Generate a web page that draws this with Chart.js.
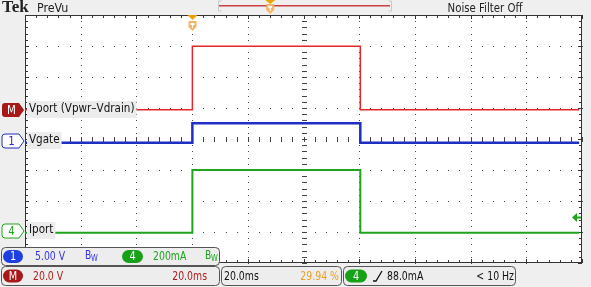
<!DOCTYPE html>
<html>
<head>
<meta charset="utf-8">
<script src="https://cdn.jsdelivr.net/npm/chart.js@4.4.1/dist/chart.umd.min.js"></script>
<style>
  html, body { margin: 0; padding: 0; background: #efefef; }
  canvas { display: block; }
</style>
</head>
<body>
<canvas id="scope" width="591" height="287"></canvas>
<script>
// horizontal: 10 div x 20 ms
const timeMs = [0, 60.1, 60.1, 120.4, 120.4, 199];
const vport = [0, 0, 41, 41, 0, 0];                    // V  (math M)
const vgate = [-0.35, -0.35, 2.8, 2.8, -0.35, -0.35];  // V  (ch 1)
const iport = [-11, -11, 394, 394, -11, -11];          // mA (ch 4)

const chIds = ['M', '1', '4'];
const chNames = ['Vport (Vpwr\u2013Vdrain)', 'Vgate', 'Iport'];
const chPerDiv = [20, 5, 200];
const chPosDiv = [0.94, -0.05, -2.97];
const chColors = ['#e4262a', '#1f2fc4', '#1ea41e'];
const chWidths = [1.5, 2.5, 2];

const trigTime = 60;    // ms
const trigLevel = 88;   // mA on ch 4
const trigPct = 29.94;

const UI = "'DejaVu Sans Condensed', 'Liberation Sans', sans-serif";

function axisFor(i) {
  return {
    display: false,
    min: (-4 - chPosDiv[i]) * chPerDiv[i],
    max: (4 - chPosDiv[i]) * chPerDiv[i]
  };
}

function toPoints(values) {
  return timeMs.map((t, i) => ({ x: t, y: values[i] }));
}

// narrow text: the scope font is tighter than anything installed
function sText(ctx, str, x, y, align, sx) {
  ctx.save();
  ctx.translate(x, y);
  ctx.scale(sx, 1);
  ctx.textAlign = align;
  ctx.fillText(str, 0, 0);
  ctx.restore();
}

function roundRect(ctx, x, y, w, h, r) {
  ctx.beginPath();
  ctx.roundRect(x, y, w, h, r);
}

function pill(ctx, x, y, w, h, color, text) {
  roundRect(ctx, x, y, w, h, h / 2);
  ctx.fillStyle = color;
  ctx.fill();
  ctx.fillStyle = '#fff';
  ctx.font = '12px ' + UI;
  ctx.textBaseline = 'middle';
  sText(ctx, text, x + w / 2, y + h / 2 + 0.5, 'center', 0.9);
}

function bw(ctx, x, y, color) {
  ctx.fillStyle = color;
  ctx.textBaseline = 'middle';
  ctx.font = '12px ' + UI;
  sText(ctx, 'B', x, y, 'left', 0.85);
  ctx.font = '9px ' + UI;
  sText(ctx, 'W', x + 6, y + 3, 'left', 0.85);
}

// graticule drawn under the traces
const graticule = {
  id: 'graticule',
  beforeDatasetsDraw(chart) {
    const { ctx, chartArea: a, scales } = chart;
    const x = scales.x, yd = scales.yDiv;
    ctx.save();
    ctx.fillStyle = '#fff';
    ctx.fillRect(a.left, a.top, a.right - a.left, a.bottom - a.top);
    ctx.fillStyle = '#444';
    for (let i = 1; i < 10; i++) {
      const px = Math.round(x.getPixelForValue(i * 20));
      for (let j = -20; j <= 20; j++) {
        ctx.fillRect(px, Math.round(yd.getPixelForValue(j / 5)), 1, 1);
      }
    }
    for (let j = -3; j <= 3; j++) {
      const py = Math.round(yd.getPixelForValue(j));
      for (let i = 0; i <= 50; i++) {
        ctx.fillRect(Math.round(x.getPixelForValue(i * 4)), py, 1, 1);
      }
    }
    // centre cross ticks
    const cx = Math.round(x.getPixelForValue(100));
    const cy = Math.round(yd.getPixelForValue(0));
    for (let j = -20; j <= 20; j++) {
      ctx.fillRect(cx - 2, Math.round(yd.getPixelForValue(j / 5)), 5, 1);
    }
    for (let i = 0; i <= 50; i++) {
      ctx.fillRect(Math.round(x.getPixelForValue(i * 4)), cy - 2, 1, 5);
    }
    // border ticks
    ctx.fillStyle = '#333';
    for (let i = 0; i <= 50; i++) {
      const px = Math.round(x.getPixelForValue(i * 4));
      const len = i % 5 === 0 ? 4 : 3;
      ctx.fillRect(px, a.top, 1, len);
      ctx.fillRect(px, a.bottom - len, 1, len);
    }
    for (let j = -20; j <= 20; j++) {
      const py = Math.round(yd.getPixelForValue(j / 5));
      const len = j % 5 === 0 ? 4 : 3;
      ctx.fillRect(a.left, py, len, 1);
      ctx.fillRect(a.right - len, py, len, 1);
    }
    ctx.strokeStyle = '#333';
    ctx.lineWidth = 1;
    ctx.strokeRect(a.left + 0.5, a.top + 0.5, a.right - a.left - 1, a.bottom - a.top - 1);
    ctx.restore();
  }
};

function groundMarker(ctx, id, color, filled, py) {
  ctx.beginPath();
  ctx.moveTo(5, py - 7);
  ctx.lineTo(19, py - 7);
  ctx.lineTo(24, py);
  ctx.lineTo(19, py + 7);
  ctx.lineTo(5, py + 7);
  ctx.arcTo(2, py + 7, 2, py, 3);
  ctx.arcTo(2, py - 7, 5, py - 7, 3);
  ctx.closePath();
  if (filled) {
    ctx.fillStyle = color;
    ctx.fill();
  } else {
    ctx.fillStyle = '#fff';
    ctx.fill();
    ctx.strokeStyle = color;
    ctx.lineWidth = 1;
    ctx.stroke();
  }
  ctx.fillStyle = filled ? '#fff' : color;
  ctx.font = '12px ' + UI;
  ctx.textBaseline = 'middle';
  sText(ctx, id, 11.5, py + 0.5, 'center', 0.95);
}

// channel labels, ground markers, trigger marks
const overlays = {
  id: 'overlays',
  afterDatasetsDraw(chart) {
    const { ctx, chartArea: a, scales } = chart;
    ctx.save();
    const labelSx = 0.89;
    ['yM', 'y1', 'y4'].forEach((axis, i) => {
      const py = Math.round(scales[axis].getPixelForValue(0));
      ctx.font = '13px ' + UI;
      const w = ctx.measureText(chNames[i]).width * labelSx;
      ctx.fillStyle = '#ececec';
      ctx.fillRect(a.left + 2, py - 9, w + 4, 17);
      ctx.fillStyle = '#111';
      ctx.textBaseline = 'middle';
      sText(ctx, chNames[i], a.left + 4, py - 1, 'left', labelSx);
      groundMarker(ctx, chIds[i], i === 0 ? '#a81818' : chColors[i], i === 0, py);
    });

    // trigger position (T) at top of graticule
    const tx = Math.round(scales.x.getPixelForValue(trigTime)) + 0.5;
    ctx.fillStyle = '#eea000';
    ctx.beginPath();
    ctx.moveTo(tx - 5, a.top);
    ctx.lineTo(tx + 5, a.top);
    ctx.lineTo(tx, a.top + 5);
    ctx.fill();
    ctx.fillStyle = '#f4b46a';
    ctx.beginPath();
    ctx.moveTo(tx - 4, a.top + 6);
    ctx.lineTo(tx + 4, a.top + 6);
    ctx.lineTo(tx + 4, a.top + 12);
    ctx.lineTo(tx, a.top + 16);
    ctx.lineTo(tx - 4, a.top + 12);
    ctx.fill();
    ctx.fillStyle = '#fff';
    ctx.fillRect(tx - 2, a.top + 8, 4, 2);
    ctx.fillRect(tx - 0.5, a.top + 9, 1, 4);

    // trigger level arrow on the right
    const ly = Math.round(scales.y4.getPixelForValue(trigLevel)) + 0.5;
    ctx.fillStyle = chColors[2];
    ctx.beginPath();
    ctx.moveTo(a.right - 10, ly);
    ctx.lineTo(a.right - 5, ly - 4.5);
    ctx.lineTo(a.right - 5, ly + 4.5);
    ctx.fill();
    ctx.fillRect(a.right - 6, ly - 1, 5, 2);
    ctx.restore();
  },
  afterDraw(chart) {
    const { ctx } = chart;
    ctx.save();
    // header
    ctx.fillStyle = '#222';
    ctx.textBaseline = 'alphabetic';
    ctx.font = "bold 17px 'Liberation Serif', serif";
    sText(ctx, 'Tek', 2, 12, 'left', 1);
    ctx.font = '13px ' + UI;
    sText(ctx, 'PreVu', 37, 12, 'left', 0.95);
    sText(ctx, 'Noise Filter Off', 485, 12, 'center', 0.87);

    // record view bar
    ctx.strokeStyle = '#c8c8c8';
    ctx.lineWidth = 1;
    ctx.beginPath();
    ctx.moveTo(221.5, 1); ctx.lineTo(218.5, 1); ctx.lineTo(218.5, 11); ctx.lineTo(221.5, 11);
    ctx.moveTo(388.5, 1); ctx.lineTo(391.5, 1); ctx.lineTo(391.5, 11); ctx.lineTo(388.5, 11);
    ctx.stroke();
    ctx.fillStyle = '#c84040';
    ctx.fillRect(219, 5, 171, 1.5);
    const mx = 219 + 171 * trigPct / 100;
    ctx.fillStyle = '#eea000';
    ctx.beginPath();
    ctx.moveTo(mx - 5, 0); ctx.lineTo(mx + 5, 0); ctx.lineTo(mx, 4);
    ctx.fill();
    ctx.fillStyle = '#f4b46a';
    ctx.beginPath();
    ctx.moveTo(mx - 4, 4); ctx.lineTo(mx + 4, 4); ctx.lineTo(mx + 4, 10);
    ctx.lineTo(mx, 14); ctx.lineTo(mx - 4, 10);
    ctx.fill();
    ctx.fillStyle = '#fff';
    ctx.fillRect(mx - 2, 6, 4, 2);
    ctx.fillRect(mx - 0.5, 7, 1, 4);

    // bottom readout boxes
    ctx.strokeStyle = '#555';
    ctx.lineWidth = 1;
    [[1.5, 247.5, 218, 18], [1.5, 266.5, 218, 19], [221.5, 266.5, 120, 19], [343.5, 266.5, 172, 19]]
      .forEach(b => {
        roundRect(ctx, b[0], b[1], b[2], b[3], 4);
        ctx.fillStyle = '#ededed';
        ctx.fill();
        ctx.stroke();
      });

    pill(ctx, 3, 250, 20, 13, '#1f3fe0', '1');
    pill(ctx, 122, 250, 21, 13, '#19a019', '4');
    pill(ctx, 3, 269.5, 20, 13, '#a81818', 'M');
    pill(ctx, 345, 269.5, 22, 13, '#19a019', '4');

    const sx = 0.8;
    ctx.textBaseline = 'middle';
    ctx.font = '13px ' + UI;
    ctx.fillStyle = '#3535e0';
    sText(ctx, '5.00 V', 35, 257, 'left', sx);
    bw(ctx, 85, 256, '#3535e0');
    ctx.font = '13px ' + UI;
    ctx.fillStyle = '#1ea41e';
    sText(ctx, '200mA', 153, 257, 'left', sx);
    bw(ctx, 205, 256, '#1ea41e');

    ctx.font = '13px ' + UI;
    ctx.fillStyle = '#b01c1c';
    sText(ctx, '20.0 V', 33, 276.5, 'left', sx);
    sText(ctx, '20.0ms', 207, 276.5, 'right', sx);

    ctx.fillStyle = '#111';
    sText(ctx, '20.0ms', 224, 276.5, 'left', sx);
    ctx.fillStyle = '#f0a020';
    sText(ctx, trigPct.toFixed(2) + ' %', 339, 276.5, 'right', sx);

    ctx.fillStyle = '#111';
    sText(ctx, trigLevel.toFixed(1) + 'mA', 387, 276.5, 'left', sx);
    sText(ctx, '< 10 Hz', 514, 276.5, 'right', sx);
    ctx.strokeStyle = '#111';
    ctx.lineWidth = 1.3;
    ctx.beginPath();
    ctx.moveTo(373, 281); ctx.lineTo(376, 281); ctx.lineTo(382, 271);
    ctx.stroke();
    ctx.restore();
  }
};

const seriesValues = [vport, vgate, iport];
const axisIds = ['yM', 'y1', 'y4'];

new Chart(document.getElementById('scope'), {
  type: 'line',
  data: {
    datasets: seriesValues.map((vals, i) => ({
      label: chNames[i],
      data: toPoints(vals),
      yAxisID: axisIds[i],
      borderColor: chColors[i],
      borderWidth: chWidths[i],
      pointRadius: 0,
      tension: 0,
      fill: false
    }))
  },
  options: {
    responsive: false,
    animation: false,
    layout: { padding: { left: 25, top: 15, right: 9, bottom: 24 } },
    plugins: {
      legend: { display: false },
      tooltip: { enabled: false }
    },
    scales: {
      x: { type: 'linear', display: false, min: 0, max: 200 },
      yDiv: { display: false, min: -4, max: 4 },
      yM: axisFor(0),
      y1: axisFor(1),
      y4: axisFor(2)
    }
  },
  plugins: [graticule, overlays]
});
</script>
</body>
</html>
